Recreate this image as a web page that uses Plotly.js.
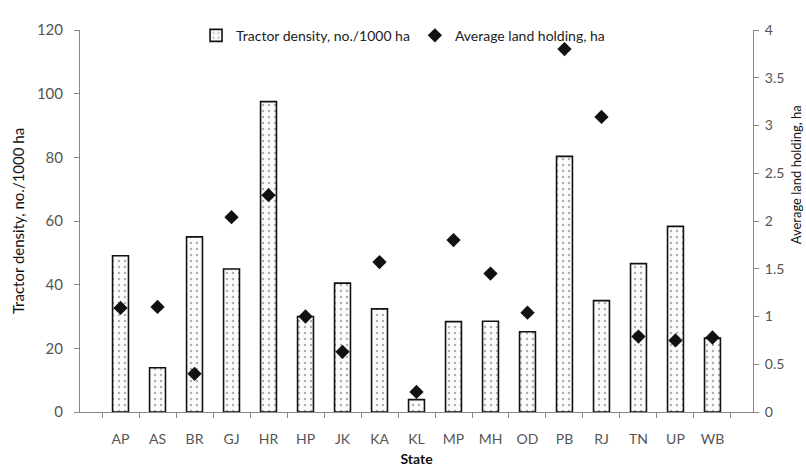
<!DOCTYPE html>
<html>
<head>
<meta charset="utf-8">
<script src="https://cdn.plot.ly/plotly-3.0.1.min.js"></script>
<style>
html,body{margin:0;padding:0;background:#fff;}
#chart{width:806px;height:472px;}
</style>
</head>
<body>
<div id="chart"></div>
<script>
const states = ["AP","AS","BR","GJ","HR","HP","JK","KA","KL","MP","MH","OD","PB","RJ","TN","UP","WB"];
const tractorDensity = [49.1, 13.9, 55, 44.9, 97.5, 30, 40.5, 32.4, 3.9, 28.4, 28.5, 25.2, 80.3, 35, 46.6, 58.3, 23.2];
const landHolding = [1.09, 1.10, 0.40, 2.04, 2.27, 1.00, 0.63, 1.57, 0.21, 1.80, 1.45, 1.04, 3.80, 3.09, 0.79, 0.75, 0.78];

const fontFam = "Lato, 'Open Sans', sans-serif";
const tickGray = "#555";

const traces = [
  {
    type: "bar",
    name: "Tractor density, no./1000 ha",
    x: states,
    y: tractorDensity,
    width: 0.43,
    marker: {
      color: "#ffffff",
      line: {color: "#111", width: 1.6},
      pattern: {shape: ".", fgcolor: "#b0b0b0", bgcolor: "#fcfcfc", size: 6, solidity: 0.14}
    },
    yaxis: "y"
  },
  {
    type: "scatter",
    mode: "markers",
    name: "Average land holding, ha",
    x: states,
    y: landHolding,
    marker: {symbol: "diamond", size: 11, color: "#111"},
    yaxis: "y2"
  }
];

const layout = {
  width: 806,
  height: 472,
  margin: {l: 80, r: 53, t: 30, b: 60},
  paper_bgcolor: "#fff",
  plot_bgcolor: "#fff",
  font: {family: fontFam, size: 14, color: "#222"},
  showlegend: true,
  legend: {
    orientation: "h",
    x: 0.48, xanchor: "center",
    y: 0.985, yanchor: "middle",
    font: {family: fontFam, size: 14, color: "#222"},
    bgcolor: "rgba(0,0,0,0)",
    itemwidth: 30
  },
  xaxis: {
    type: "category",
    showline: true, linecolor: "#888", linewidth: 1,
    ticks: "outside", tickson: "boundaries", ticklen: 5, tickcolor: "#888",
    ticklabelstandoff: 14,
    tickfont: {family: fontFam, size: 14, color: tickGray},
    showgrid: false, zeroline: false,
    title: {text: "State", font: {family: fontFam, size: 14, color: "#111", weight: "bold"}, standoff: 8}
  },
  yaxis: {
    range: [0, 120],
    tickvals: [0,20,40,60,80,100,120],
    showline: true, linecolor: "#888", linewidth: 1,
    ticks: "outside", ticklen: 5, tickcolor: "#888",
    ticklabelstandoff: 8,
    tickfont: {family: fontFam, size: 15, color: tickGray},
    showgrid: false, zeroline: false,
    title: {text: "Tractor density, no./1000 ha", font: {family: fontFam, size: 15, color: "#111"}, standoff: 8}
  },
  yaxis2: {
    range: [0, 4],
    tickvals: [0,0.5,1,1.5,2,2.5,3,3.5,4],
    ticktext: ["0","0.5","1","1.5","2","2.5","3","3.5","4"],
    overlaying: "y",
    side: "right",
    showline: true, linecolor: "#888", linewidth: 1,
    ticks: "outside", ticklen: 5, tickcolor: "#888",
    ticklabelstandoff: 3,
    tickfont: {family: fontFam, size: 14, color: tickGray},
    showgrid: false, zeroline: false
  },
  annotations: [
    {
      text: "Average land holding, ha",
      xref: "paper", yref: "paper",
      x: 1.079, xanchor: "right",
      y: 0.62, yanchor: "middle",
      textangle: -90,
      showarrow: false,
      font: {family: fontFam, size: 13, color: "#111"}
    }
  ]
};

Plotly.newPlot("chart", traces, layout, {displayModeBar: false, staticPlot: true});
</script>
</body>
</html>
